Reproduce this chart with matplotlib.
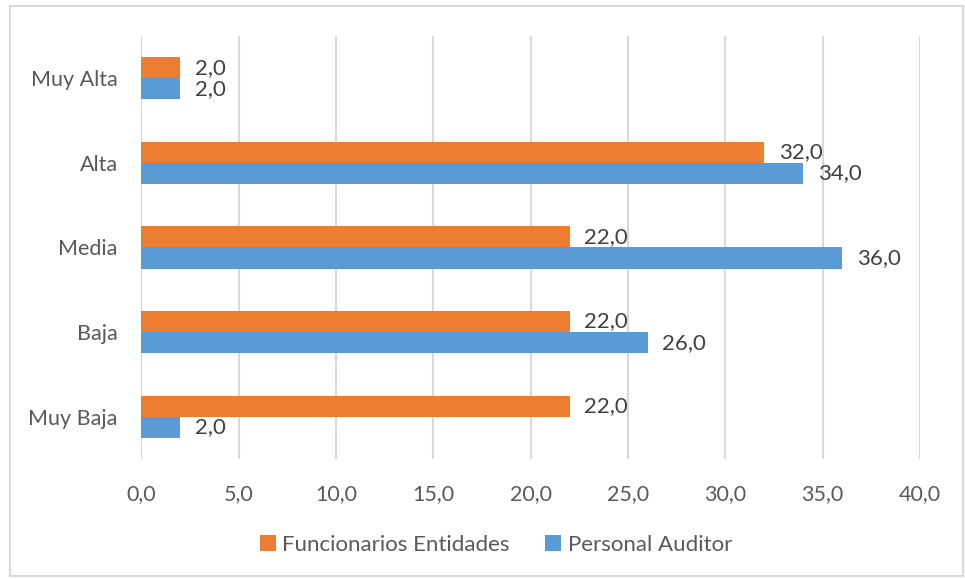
import numpy as np
import matplotlib
matplotlib.use("Agg")
import matplotlib.pyplot as plt
from matplotlib.patches import Rectangle

plt.rcParams["font.family"] = ["Lato", "DejaVu Sans"]

categories = ["Muy Baja", "Baja", "Media", "Alta", "Muy Alta"]
funcionarios = [22.0, 22.0, 22.0, 32.0, 2.0]
auditor = [2.0, 26.0, 36.0, 34.0, 2.0]
series_names = ["Funcionarios Entidades", "Personal Auditor"]
xticks = [0, 5, 10, 15, 20, 25, 30, 35, 40]

ORANGE = "#ED7D31"
BLUE = "#5B9BD5"
GRID = "#D9D9D9"
TICK = "#595959"
LABEL = "#404040"

fig = plt.figure(figsize=(9.65, 5.79), dpi=100)
ax = fig.add_axes([0.1466, 0.2073, 0.8068, 0.7305])

y = np.arange(len(categories))
h = 0.25
b1 = ax.barh(y + h / 2, funcionarios, height=h, color=ORANGE, label=series_names[0], zorder=3)
b2 = ax.barh(y - h / 2, auditor, height=h, color=BLUE, label=series_names[1], zorder=3)

for bars, vals in ((b1, funcionarios), (b2, auditor)):
    for bar, v in zip(bars, vals):
        ax.annotate(f"{v:.1f}".replace(".", ","),
                    (v, bar.get_y() + bar.get_height() / 2),
                    xytext=(10.5, 0), textcoords="offset points",
                    ha="left", va="center", fontsize=16, color=LABEL)

ax.set_xlim(0, 40)
ax.set_ylim(-0.5, len(categories) - 0.5)
ax.set_xticks(xticks)
ax.set_xticklabels([f"{t:.1f}".replace(".", ",") for t in xticks])
ax.set_yticks(y)
ax.set_yticklabels(categories)
ax.tick_params(axis="both", length=0, labelsize=15.5, labelcolor=TICK)
ax.tick_params(axis="x", pad=18)
ax.tick_params(axis="y", pad=17)
ax.xaxis.grid(True, color=GRID, linewidth=1.5, zorder=0)
for s in ax.spines.values():
    s.set_visible(False)

leg = fig.legend(handles=[b1, b2], loc="center", bbox_to_anchor=(0.514, 0.059),
                 ncol=2, frameon=False, fontsize=16, labelcolor=TICK,
                 handlelength=0.7, handleheight=0.7, handletextpad=0.3,
                 columnspacing=1.6)

fig.patches.append(Rectangle((10 / 965, 3 / 579), 953 / 965, 570 / 579,
                             transform=fig.transFigure, fill=False,
                             edgecolor=GRID, linewidth=1.5))

fig.savefig("out.png", dpi=100)
